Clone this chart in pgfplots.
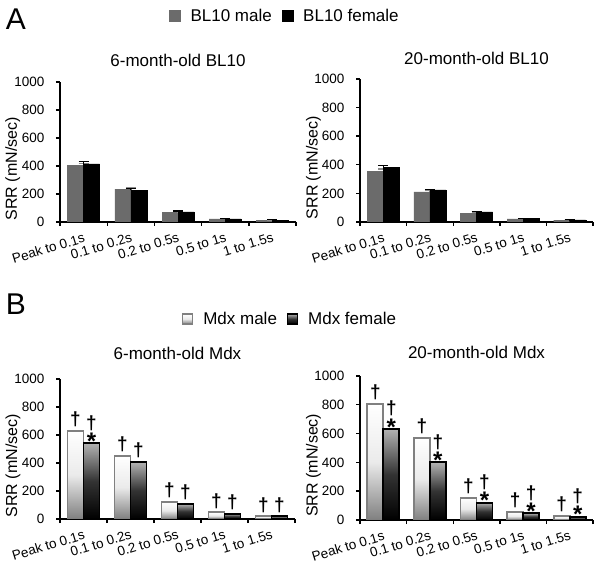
\documentclass[border=0pt]{standalone}
\usepackage{fontspec}
\setmainfont{Liberation Sans}
\usepackage{pgfplots}
\pgfplotsset{compat=1.18}

\definecolor{blgray}{HTML}{6B6B6B}
\definecolor{mdxline}{HTML}{808080}

\newcommand\dg{{\bfseries\fontsize{19bp}{19bp}\selectfont †}}
\newcommand\dgst{\vbox{\offinterlineskip\halign{\hfil##\hfil\cr\dg\cr\noalign{\kern2bp}
  \raisebox{-10bp}[7bp][0bp]{\bfseries\fontsize{24bp}{24bp}\selectfont *}\cr}}}

\pgfplotsset{
  srr/.style={
    scale only axis,
    xmin=-0.5, xmax=4.5, ymin=0, ymax=1000,
    axis x line*=bottom, axis y line*=left,
    axis line style={line width=1.6bp, -},
    tick align=outside, major tick length=4bp,
    every tick/.style={black, line width=1.4bp},
    ytick={0,200,...,1000},
    /pgf/number format/assume math mode=true,
    /pgf/number format/1000 sep={},
    yticklabel style={font=\fontsize{13.5bp}{15bp}\selectfont, xshift=-8bp},
    xtick={-0.5,0.5,...,4.5},
    xticklabels={},
    xticklabel shift=9bp,
    extra x ticks={0,1,2,3,4},
    extra x tick labels={Peak to 0.1s, 0.1 to 0.2s, 0.2 to 0.5s, 0.5 to 1s, 1 to 1.5s},
    extra x tick style={major tick length=0pt, xticklabel shift=9bp,
      tick label style={font=\fontsize{13.5bp}{15bp}\selectfont, xshift=0bp,
        rotate=17, anchor=north east, inner sep=1bp}},
    ylabel={SRR (mN/sec)},
    ylabel style={at={(axis description cs:-0.2,0.38)}, anchor=center, rotate=0,
      font=\fontsize{16bp}{18bp}\selectfont},
    title style={at={(0.5,1)}, anchor=base, font=\fontsize{17bp}{20bp}\selectfont},
    legend image code/.code={\draw[#1] (0bp,-5.5bp) rectangle (11bp,5.5bp);},
    legend style={draw=none, fill=none, legend columns=2, anchor=center,
      font=\fontsize{17bp}{20bp}\selectfont, column sep=8bp},
  },
  errs/.style={
    error bars/y dir=plus, error bars/y explicit,
    error bars/error bar style={line width=1.2bp, draw=#1},
    error bars/error mark options={rotate=90, mark size=5bp, line width=1.2bp, draw=#1}},
  blbar/.style={ybar, bar width=16bp, forget plot},
  malefill/.style={draw=mdxline, line width=1.8bp, top color=white, bottom color=black!50, middle color=black!8},
  femalefill/.style={draw=black, line width=1.8bp, top color=black!30, bottom color=black, middle color=black!80},
  mdxbar/.style={ybar, bar width=16bp, forget plot,
    nodes near coords style={anchor=south, inner sep=0pt, yshift=3bp, text=black}},
}

% one Mdx bar: category, value, annotation
\newcommand\mbar[3]{\addplot[malefill, mdxbar, bar shift=-8bp, nodes near coords={#3},
  nodes near coords style={xshift=-8bp}] coordinates {(#1,#2)};}
\newcommand\fbar[3]{\addplot[femalefill, mdxbar, bar shift=8bp, nodes near coords={#3},
  nodes near coords style={xshift=8bp}] coordinates {(#1,#2)};}

\begin{document}
\begin{tikzpicture}
\useasboundingbox (0,0) rectangle (601bp,576bp);
\node[font=\fontsize{30bp}{32bp}\selectfont] at (16bp,557bp) {A};
\node[font=\fontsize{30bp}{32bp}\selectfont] at (16bp,272bp) {B};

% A: 6-month-old BL10
\begin{axis}[srr, at={(60bp,354bp)}, anchor=south west, width=236bp, height=140bp,
  title={6-month-old BL10}, title style={yshift=10bp},
  legend style={at={(axis description cs:0.953,1.471)}}]
\addlegendimage{fill=blgray, draw=blgray}
\addlegendentry{BL10 male}
\addlegendimage{fill=black, draw=black}
\addlegendentry{BL10 female}
\addplot[blbar, bar shift=-8bp, fill=blgray, draw=blgray, errs=black!45]
  coordinates {(0,405) +- (0,15) (1,235) +- (0,8) (2,70) +- (0,4) (3,22) +- (0,2) (4,12) +- (0,2)};
\addplot[blbar, bar shift=8bp, fill=black, draw=black, errs=black]
  coordinates {(0,415) +- (0,15) (1,225) +- (0,12) (2,72) +- (0,6) (3,23) +- (0,2) (4,13) +- (0,2)};
\end{axis}

% A: 20-month-old BL10
\begin{axis}[srr, at={(360bp,354bp)}, anchor=south west, width=233bp, height=143bp,
  title={20-month-old BL10}, title style={yshift=9bp}]
\addplot[blbar, bar shift=-8bp, fill=blgray, draw=blgray, errs=black!45]
  coordinates {(0,355) +- (0,15) (1,210) +- (0,8) (2,60) +- (0,4) (3,22) +- (0,2) (4,13) +- (0,2)};
\addplot[blbar, bar shift=8bp, fill=black, draw=black, errs=black]
  coordinates {(0,380) +- (0,15) (1,225) +- (0,5) (2,70) +- (0,3) (3,24) +- (0,2) (4,15) +- (0,2)};
\end{axis}

% B: 6-month-old Mdx
\begin{axis}[srr, at={(60bp,57bp)}, anchor=south west, width=235bp, height=140bp,
  title={6-month-old Mdx}, title style={yshift=14bp},
  legend style={at={(axis description cs:0.979,1.429)}},
  legend image code/.code={\draw[#1, line width=1.2bp] (0bp,-5bp) rectangle (10bp,5bp);}]
\addlegendimage{malefill}
\addlegendentry{Mdx male}
\addlegendimage{femalefill}
\addlegendentry{Mdx female}
\mbar{0}{628}{\dg}
\mbar{1}{452}{\dg}
\mbar{2}{122}{\dg}
\mbar{3}{48}{\dg}
\mbar{4}{20}{\dg}
\fbar{0}{540}{\dgst}
\fbar{1}{407}{\dg}
\fbar{2}{108}{\dg}
\fbar{3}{38}{\dg}
\fbar{4}{20}{\dg}
\end{axis}

% B: 20-month-old Mdx
\begin{axis}[srr, at={(360bp,56bp)}, anchor=south west, width=233bp, height=144bp,
  title={20-month-old Mdx}, title style={yshift=12bp}]
\mbar{0}{807}{\dg}
\mbar{1}{569}{\dg}
\mbar{2}{155}{\dg}
\mbar{3}{55}{\dg}
\mbar{4}{28}{\dg}
\fbar{0}{632}{\dgst}
\fbar{1}{400}{\dgst}
\fbar{2}{120}{\dgst}
\fbar{3}{46}{\dgst}
\fbar{4}{22}{\dgst}
\end{axis}
\end{tikzpicture}
\end{document}
